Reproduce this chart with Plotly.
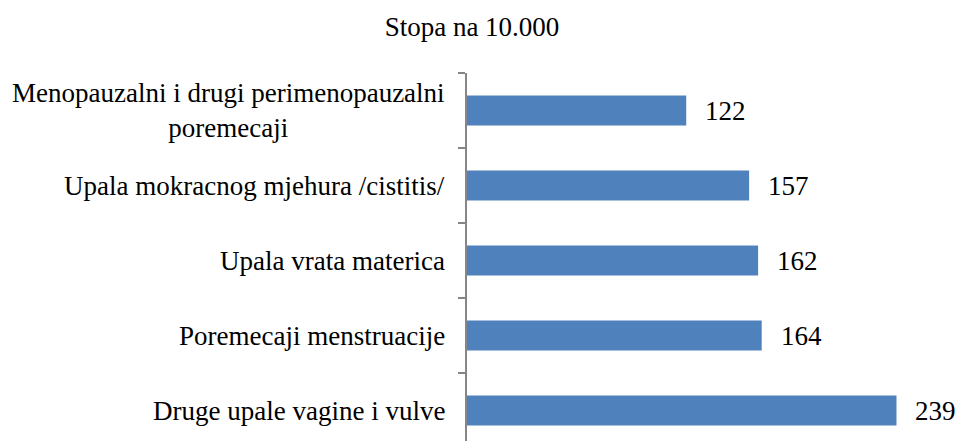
import plotly.graph_objects as go

categories = [
    "Druge upale vagine i vulve",
    "Poremecaji menstruacije",
    "Upala vrata materica",
    "Upala mokracnog mjehura /cistitis/",
    "Menopauzalni i drugi perimenopauzalni<br>poremecaji",
]
values = [239, 164, 162, 157, 122]
title_text = "Stopa na 10.000"

FONT = "Liberation Serif"
FS = 27
W, H = 959, 441
L, T = 467, 73

fig = go.Figure()
fig.add_trace(go.Bar(
    x=values,
    y=list(range(len(categories))),
    orientation="h",
    marker=dict(color="#4F81BD", line=dict(width=0)),
    width=0.4,
    hoverinfo="skip",
))

# value labels
for i, v in enumerate(values):
    fig.add_annotation(x=v, y=i, xref="x", yref="y", text=str(v),
                       showarrow=False, xanchor="left", yanchor="middle",
                       xshift=17, font=dict(family=FONT, size=FS, color="black"))

# category labels
for i, c in enumerate(categories):
    fig.add_annotation(x=0, y=i, xref="paper", yref="y", text=c,
                       showarrow=False, xanchor="right", yanchor="middle",
                       align="center", xshift=-20,
                       font=dict(family=FONT, size=FS, color="black"))

plot_h = H - T
top = len(categories) - 0.5
bottom = top - plot_h / 75.0
plot_w = W - L
xmax = plot_w / 1.797

fig.update_layout(
    width=W, height=H,
    margin=dict(l=L, r=0, t=T, b=0, pad=0),
    paper_bgcolor="white", plot_bgcolor="white",
    showlegend=False,
    font=dict(family=FONT, size=FS, color="black"),
    title=dict(text=title_text, x=472 / W, xanchor="center", xref="container",
               y=1 - 27 / H, yanchor="middle", yref="container",
               font=dict(family=FONT, size=FS, color="black")),
    xaxis=dict(range=[0, xmax], showgrid=False, zeroline=False, showline=False,
               showticklabels=False, ticks=""),
    yaxis=dict(range=[bottom, top], showgrid=False, zeroline=False,
               showline=True, linecolor="#868686", linewidth=2,
               showticklabels=False, ticks="outside", ticklen=7,
               tickcolor="#868686", tickwidth=2,
               tickvals=[i + 0.5 for i in range(-1, len(categories))]),
)

fig.write_html(
    "out.html",
    config={"displayModeBar": False, "staticPlot": True},
    post_script="document.body.style.margin='0';document.body.style.overflow='hidden';",
)
